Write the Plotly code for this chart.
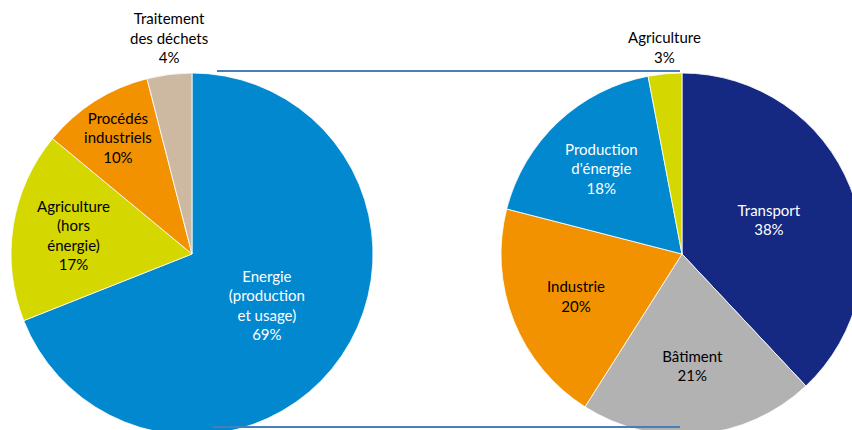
import math
import plotly.graph_objects as go

# ---- data ----
left_labels = ["Energie<br>(production<br>et usage)", "Agriculture<br>(hors<br>énergie)",
               "Procédés<br>industriels", "Traitement<br>des déchets"]
left_values = [69, 17, 10, 4]
left_colors = ["#0288CF", "#D4D700", "#F39200", "#CDB9A1"]
left_text_colors = ["white", "black", "black", "black"]
left_positions = ["inside", "inside", "inside", "none"]

right_labels = ["Transport", "Bâtiment", "Industrie", "Production<br>d'énergie", "Agriculture"]
right_values = [38, 21, 20, 18, 3]
right_colors = ["#152882", "#B2B2B2", "#F39200", "#0288CF", "#D4D700"]
right_text_colors = ["white", "black", "black", "white", "black"]
right_positions = ["inside", "inside", "inside", "inside", "none"]

# ---- layout geometry (pixels) ----
W, H = 870, 440
R = 181
CY = 254
LCX, RCX = 192, 682
FONT = "Lato"
FS = 15


def dom(cx):
    return dict(x=[(cx - R) / W, (cx + R) / W],
                y=[(H - (CY + R)) / H, (H - (CY - R)) / H])


def outside_label(cx, labels, values, idx):
    """Place a label outside the pie, along the bisector of slice idx."""
    total = sum(values)
    start = sum(values[:idx]) / total * 360
    mid = math.radians(start + values[idx] / total * 180)
    px = cx + R * math.sin(mid)
    py = CY - R * math.cos(mid) - 6
    return dict(x=px / W, y=(H - py) / H, xref="paper", yref="paper",
                text=f"{labels[idx]}<br>{values[idx]}%", showarrow=False,
                xanchor="center", yanchor="bottom",
                font=dict(family=FONT, size=FS, color="black"))


fig = go.Figure()
fig.add_trace(go.Pie(
    labels=left_labels, values=left_values, sort=False, direction="clockwise", rotation=0,
    marker=dict(colors=left_colors, line=dict(color="white", width=0.8)),
    texttemplate="%{label}<br>%{value}%", textposition=left_positions,
    insidetextorientation="horizontal",
    textfont=dict(family=FONT, size=FS, color=left_text_colors),
    domain=dom(LCX), showlegend=False, hoverinfo="label+value"))
fig.add_trace(go.Pie(
    labels=right_labels, values=right_values, sort=False, direction="clockwise", rotation=0,
    marker=dict(colors=right_colors, line=dict(color="white", width=0.8)),
    texttemplate="%{label}<br>%{value}%", textposition=right_positions,
    insidetextorientation="horizontal",
    textfont=dict(family=FONT, size=FS, color=right_text_colors),
    domain=dom(RCX), showlegend=False, hoverinfo="label+value"))

fig.add_annotation(**outside_label(LCX, left_labels, left_values, 3))
fig.add_annotation(**outside_label(RCX, right_labels, right_values, 4))

# connector lines between the two pies (top and bottom)
line_style = dict(color="#4A7EBB", width=2)
top_y = (H - (CY - R - 2)) / H
bot_y = (H - (CY + R - 8)) / H
fig.add_shape(type="line", xref="paper", yref="paper", layer="below",
              x0=(LCX + 25) / W, x1=(RCX - 2) / W, y0=top_y, y1=top_y, line=line_style)
fig.add_shape(type="line", xref="paper", yref="paper",
              x0=(LCX + 21) / W, x1=(RCX - 2) / W, y0=bot_y, y1=bot_y, line=line_style)

fig.update_layout(
    width=W, height=H, margin=dict(l=0, r=0, t=0, b=0),
    paper_bgcolor="white", plot_bgcolor="white",
    font=dict(family=FONT, size=FS, color="black"),
    uniformtext=dict(minsize=FS, mode="show"),
)

fig.write_html("out.html", config={"displayModeBar": False}, post_script=(
    "document.body.style.margin='0';"
    "document.body.style.overflow='hidden';"
    "document.documentElement.style.overflow='hidden';"))
